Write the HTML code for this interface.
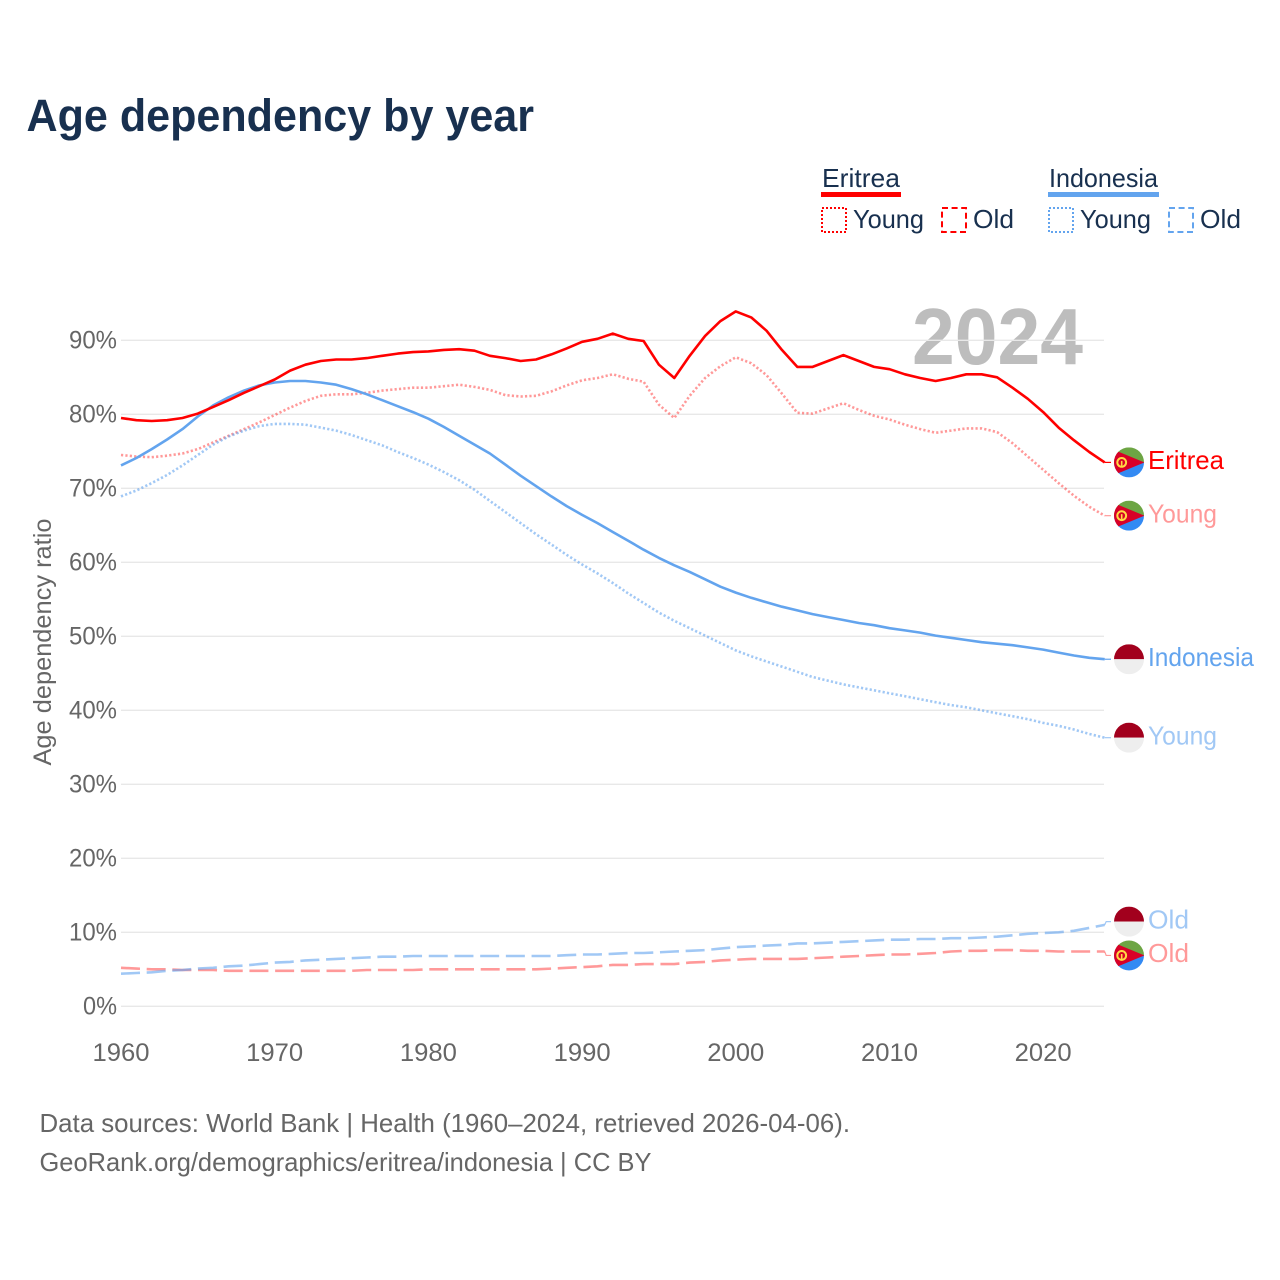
<!DOCTYPE html>
<html lang="en">
<head>
<meta charset="utf-8">
<title>Age dependency by year</title>
<style>
  html, body { margin: 0; padding: 0; background: #ffffff; }
  body { width: 1280px; height: 1280px; overflow: hidden; }
  svg { display: block; font-family: "Liberation Sans", sans-serif; }
</style>
</head>
<body>
<svg id="chart" xmlns="http://www.w3.org/2000/svg" width="1280" height="1280" viewBox="0 0 1280 1280">
  <rect x="0" y="0" width="1280" height="1280" fill="#ffffff"/>
  <text x="26.5" y="131" font-size="45" font-weight="700" fill="#18304f" textLength="507.5" lengthAdjust="spacingAndGlyphs">Age dependency by year</text>

  <g font-size="26" fill="#18304f">
    <text x="822" y="187" textLength="78" lengthAdjust="spacingAndGlyphs">Eritrea</text>
    <rect x="821" y="192" width="80" height="5" fill="#ff0000"/>
    <rect x="822" y="208" width="24" height="24" fill="none" stroke="#ff0000" stroke-width="2" stroke-dasharray="2 2"/>
    <text x="853" y="228" textLength="71" lengthAdjust="spacingAndGlyphs">Young</text>
    <rect x="942" y="208" width="24" height="24" fill="none" stroke="#ff0000" stroke-width="2" stroke-dasharray="6 3.6"/>
    <text x="973" y="228" textLength="41" lengthAdjust="spacingAndGlyphs">Old</text>

    <text x="1049" y="187" textLength="109" lengthAdjust="spacingAndGlyphs">Indonesia</text>
    <rect x="1048" y="192" width="111" height="5" fill="#63a4ee"/>
    <rect x="1049" y="208" width="24" height="24" fill="none" stroke="#63a4ee" stroke-width="2" stroke-dasharray="2 2"/>
    <text x="1080" y="228" textLength="71" lengthAdjust="spacingAndGlyphs">Young</text>
    <rect x="1169" y="208" width="24" height="24" fill="none" stroke="#63a4ee" stroke-width="2" stroke-dasharray="6 3.6"/>
    <text x="1200" y="228" textLength="41" lengthAdjust="spacingAndGlyphs">Old</text>
  </g>

  <text x="1083" y="364" font-size="80" font-weight="700" fill="#bdbdbd" text-anchor="end" textLength="171" lengthAdjust="spacingAndGlyphs">2024</text>

  <g id="grid-layer"></g>
  <g id="axis-layer" font-size="25" fill="#666666"></g>
  <text transform="translate(51,642) rotate(-90)" font-size="25" fill="#666666" text-anchor="middle" textLength="247" lengthAdjust="spacingAndGlyphs">Age dependency ratio</text>
  <g id="series-layer" fill="none"></g>
  <g id="label-layer" font-size="26"></g>

  <g font-size="26" fill="#666666">
    <text x="39.5" y="1132" textLength="810.5" lengthAdjust="spacingAndGlyphs">Data sources: World Bank | Health (1960–2024, retrieved 2026-04-06).</text>
    <text x="39.5" y="1171" textLength="612" lengthAdjust="spacingAndGlyphs">GeoRank.org/demographics/eritrea/indonesia | CC BY</text>
  </g>
</svg>

<script>
const firstYear = 1960;
const yTickValues = [0, 10, 20, 30, 40, 50, 60, 70, 80, 90];
const xTickValues = [1960, 1970, 1980, 1990, 2000, 2010, 2020];

const eritreaTotal = [79.5,79.2,79.1,79.2,79.5,80.1,81.0,81.9,82.9,83.8,
  84.7,85.9,86.7,87.2,87.4,87.4,87.6,87.9,88.2,88.4,
  88.5,88.7,88.8,88.6,87.9,87.6,87.2,87.4,88.1,88.9,
  89.8,90.2,90.9,90.2,89.9,86.7,84.9,87.9,90.6,92.6,
  93.9,93.1,91.3,88.7,86.4,86.4,87.2,88.0,87.2,86.4,
  86.1,85.4,84.9,84.5,84.9,85.4,85.4,85.0,83.6,82.1,
  80.3,78.2,76.5,74.9,73.5];
const eritreaYoung = [74.5,74.3,74.2,74.4,74.7,75.3,76.2,77.1,78.0,78.9,
  79.9,80.9,81.8,82.5,82.7,82.7,82.9,83.2,83.4,83.6,
  83.6,83.8,84.0,83.7,83.3,82.6,82.4,82.5,83.1,83.9,
  84.6,84.9,85.4,84.8,84.4,81.3,79.5,82.5,84.9,86.5,
  87.7,86.9,85.3,82.8,80.2,80.1,80.8,81.5,80.6,79.8,
  79.3,78.6,78.0,77.5,77.8,78.1,78.1,77.6,76.1,74.3,
  72.5,70.7,69.0,67.5,66.3];
const eritreaOld = [5.2,5.1,5.0,5.0,4.9,4.9,4.9,4.8,4.8,4.8,
  4.8,4.8,4.8,4.8,4.8,4.8,4.9,4.9,4.9,4.9,
  5.0,5.0,5.0,5.0,5.0,5.0,5.0,5.0,5.1,5.2,
  5.3,5.4,5.6,5.6,5.7,5.7,5.7,5.9,6.0,6.2,
  6.3,6.4,6.4,6.4,6.4,6.5,6.6,6.7,6.8,6.9,
  7.0,7.0,7.1,7.2,7.4,7.5,7.5,7.6,7.6,7.5,
  7.5,7.4,7.4,7.4,7.4];
const indonesiaTotal = [73.1,74.1,75.3,76.6,78.0,79.7,81.2,82.3,83.2,83.9,
  84.3,84.5,84.5,84.3,84.0,83.4,82.7,81.9,81.1,80.3,
  79.4,78.3,77.1,75.9,74.7,73.2,71.7,70.3,68.9,67.6,
  66.4,65.3,64.1,62.9,61.7,60.6,59.6,58.7,57.7,56.7,
  55.9,55.2,54.6,54.0,53.5,53.0,52.6,52.2,51.8,51.5,
  51.1,50.8,50.5,50.1,49.8,49.5,49.2,49.0,48.8,48.5,
  48.2,47.8,47.4,47.1,46.9];
const indonesiaYoung = [68.9,69.7,70.7,71.8,73.1,74.5,75.9,77.0,77.8,78.4,
  78.7,78.7,78.6,78.2,77.8,77.2,76.5,75.8,74.9,74.1,
  73.2,72.2,71.1,69.8,68.3,66.8,65.3,63.8,62.4,61.0,
  59.7,58.5,57.2,55.8,54.5,53.2,52.1,51.1,50.1,49.1,
  48.1,47.3,46.6,45.9,45.2,44.5,44.0,43.5,43.1,42.7,
  42.3,41.9,41.5,41.1,40.7,40.4,40.0,39.6,39.2,38.8,
  38.3,37.9,37.4,36.8,36.3];
const indonesiaOld = [4.4,4.5,4.6,4.8,4.9,5.1,5.2,5.4,5.5,5.7,
  5.9,6.0,6.2,6.3,6.4,6.5,6.6,6.7,6.7,6.8,
  6.8,6.8,6.8,6.8,6.8,6.8,6.8,6.8,6.8,6.9,
  7.0,7.0,7.1,7.2,7.2,7.3,7.4,7.5,7.6,7.8,
  8.0,8.1,8.2,8.3,8.5,8.5,8.6,8.7,8.8,8.9,
  9.0,9.0,9.1,9.1,9.2,9.2,9.3,9.4,9.6,9.8,
  9.9,10.0,10.2,10.6,11.0];

const SVG_NS = 'http://www.w3.org/2000/svg';
const RED = '#ff0000';
const BLUE = '#63a4ee';
const gridLayer = document.getElementById('grid-layer');
const axisLayer = document.getElementById('axis-layer');
const seriesLayer = document.getElementById('series-layer');
const labelLayer = document.getElementById('label-layer');

function xScale(year) { return 121 + (year - firstYear) * 15.37; }
function yScale(pct) { return 1006.3 - pct * 7.4; }

function make(tag, attrs, parent) {
  const el = document.createElementNS(SVG_NS, tag);
  for (const key in attrs) { el.setAttribute(key, attrs[key]); }
  parent.appendChild(el);
  return el;
}

yTickValues.forEach(function (tick) {
  const line = make('line', { x1: 121, x2: 1104, y1: yScale(tick), y2: yScale(tick), stroke: '#e8e8e8', 'stroke-width': 1.3 }, gridLayer);
  
  
  const label = make('text', { x: 117, y: yScale(tick) + 8, 'text-anchor': 'end', textLength: tick === 0 ? 34 : 48, lengthAdjust: 'spacingAndGlyphs' }, axisLayer);
  label.textContent = tick + '%';
  
  
});

xTickValues.forEach(function (tick) {
  const label = make('text', { x: xScale(tick), y: 1061, 'text-anchor': 'middle', textLength: 57, lengthAdjust: 'spacingAndGlyphs' }, axisLayer);
  label.textContent = String(tick);
  
  
});

function drawFlag(country, cy, parent, id) {
  const group = make('g', {}, parent);
  
  
  const clip = make('clipPath', { id: 'clip-' + id }, group);
  make('circle', { cx: 1129, cy: cy, r: 15 }, clip);
  const inner = make('g', { 'clip-path': 'url(#clip-' + id + ')' }, group);
  if (country === 'eritrea') {
    make('rect', { x: 1114, y: cy - 15, width: 30, height: 15, fill: '#6da544' }, inner);
    make('rect', { x: 1114, y: cy, width: 30, height: 15, fill: '#338af3' }, inner);
    make('polygon', { points: (1113) + ',' + (cy - 13) + ' ' + (1144.5) + ',' + cy + ' ' + (1113) + ',' + (cy + 13), fill: '#d80027' }, inner);
    make('circle', { cx: 1121.7, cy: cy, r: 4.4, fill: 'none', stroke: '#ffda44', 'stroke-width': 2 }, inner);
    make('line', { x1: 1121.7, x2: 1121.7, y1: cy - 1.5, y2: cy + 3.5, stroke: '#ffda44', 'stroke-width': 1.6 }, inner);
  } else {
    make('rect', { x: 1114, y: cy - 15, width: 30, height: 15, fill: '#a2001d' }, inner);
    make('rect', { x: 1114, y: cy, width: 30, height: 15, fill: '#eeeeee' }, inner);
  }
}

function drawSeries(id, country, label, values, color, opacity, dash, dodge, labelWidth) {
  const d = values.map(function (v, i) {
    return (i === 0 ? 'M' : 'L') + xScale(firstYear + i).toFixed(1) + ' ' + yScale(v).toFixed(1);
  }).join(' ');
  const path = make('path', { d: d, stroke: color, 'stroke-width': 2.6, 'stroke-opacity': opacity, 'stroke-linejoin': 'round', 'stroke-dasharray': dash }, seriesLayer);
  
  

  const endIndex = values.length - 1;
  const endX = xScale(firstYear + endIndex);
  const endY = yScale(values[endIndex]);
  const labelY = endY + dodge;
  const connector = make('path', {
    d: 'M' + endX + ' ' + endY + ' L' + (endX + 1.5) + ' ' + labelY + ' L1111 ' + labelY,
    stroke: color, 'stroke-width': 1.2, 'stroke-opacity': opacity
  }, seriesLayer);
  
  

  drawFlag(country, labelY, labelLayer, id);

  const text = make('text', { x: 1148, y: labelY + 6.8, fill: color, 'fill-opacity': opacity, textLength: labelWidth, lengthAdjust: 'spacingAndGlyphs' }, labelLayer);
  text.textContent = label;
  
  
}

drawSeries('eritrea-old', 'eritrea', 'Old', eritreaOld, RED, 0.4, '19 6.7', 3.9, 41);
drawSeries('indonesia-old', 'indonesia', 'Old', indonesiaOld, BLUE, 0.6, '19 6.7', -3.3, 41);
drawSeries('eritrea-young', 'eritrea', 'Young', eritreaYoung, RED, 0.4, '2.2 2.2', 0, 69);
drawSeries('indonesia-young', 'indonesia', 'Young', indonesiaYoung, BLUE, 0.6, '2.2 2.2', 0, 69);
drawSeries('indonesia-total', 'indonesia', 'Indonesia', indonesiaTotal, BLUE, 1, 'none', 0, 106);
drawSeries('eritrea-total', 'eritrea', 'Eritrea', eritreaTotal, RED, 1, 'none', 0, 76);
</script>
</body>
</html>
